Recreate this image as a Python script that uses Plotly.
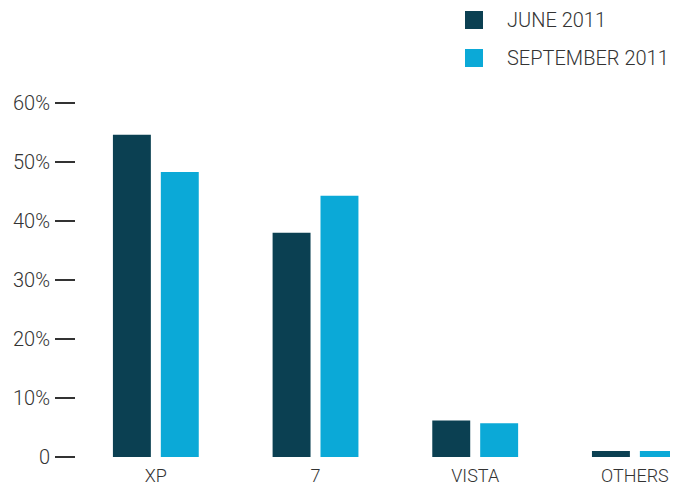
import plotly.graph_objects as go

categories = ["XP", "7", "VISTA", "OTHERS"]
series_names = ["JUNE 2011", "SEPTEMBER 2011"]
june_2011 = [54.6, 38.0, 6.2, 1.0]
september_2011 = [48.3, 44.3, 5.7, 1.0]
y_tick_values = [0, 10, 20, 30, 40, 50, 60]
y_tick_labels = ["0", "10%", "20%", "30%", "40%", "50%", "60%"]

colors = ["#0B4052", "#0BA9D7"]
font_family = "Roboto, 'DejaVu Sans', sans-serif"
text_color = "#333333"
font_weight = 300

# the page body adds an 8px offset; figure is sized/margined to compensate
W, H = 670, 479
ML, MR, MT, MB = 68, 0, 95, 30
PW, PH = W - ML - MR, H - MT - MB

fig = go.Figure()
for name, vals, col in zip(series_names, [june_2011, september_2011], colors):
    fig.add_trace(go.Bar(x=categories, y=vals, name=name,
                         marker=dict(color=col, line=dict(width=0)),
                         showlegend=False))

# custom legend (large square swatches)
for i, (name, col) in enumerate(zip(series_names, colors)):
    yc = 20 + 38 * i - 8
    x0 = 465 - 8
    fig.add_shape(type="rect", xref="paper", yref="paper",
                  x0=(x0 - ML) / PW, x1=(x0 + 18 - ML) / PW,
                  y0=(H - MB - (yc + 9)) / PH, y1=(H - MB - (yc - 9)) / PH,
                  fillcolor=col, line=dict(width=0))
    fig.add_annotation(text=name, xref="paper", yref="paper",
                       x=(505 - 8 - ML) / PW, y=(H - MB - yc) / PH,
                       xanchor="left", yanchor="middle", showarrow=False,
                       font=dict(family=font_family, size=20, color=text_color,
                                 weight=font_weight))

fig.update_layout(
    width=W, height=H,
    margin=dict(l=ML, r=MR, t=MT, b=MB, pad=0),
    paper_bgcolor="white", plot_bgcolor="white",
    barmode="group", bargap=0.4, bargroupgap=0.208,
    font=dict(family=font_family, size=19, color=text_color, weight=font_weight),
    xaxis=dict(range=[-0.5, 3.27], showgrid=False, zeroline=False, showline=False,
               ticks="", ticklabelstandoff=6,
               tickfont=dict(size=18, color=text_color, weight=font_weight)),
    yaxis=dict(range=[0, 60], tickvals=y_tick_values, ticktext=y_tick_labels,
               showgrid=False, zeroline=False, showline=False,
               ticks="outside", ticklen=20, tickwidth=2, tickcolor="#333333",
               ticklabelstandoff=1,
               tickfont=dict(size=20, color=text_color, weight=font_weight)),
)

fig.write_html("out.html")
